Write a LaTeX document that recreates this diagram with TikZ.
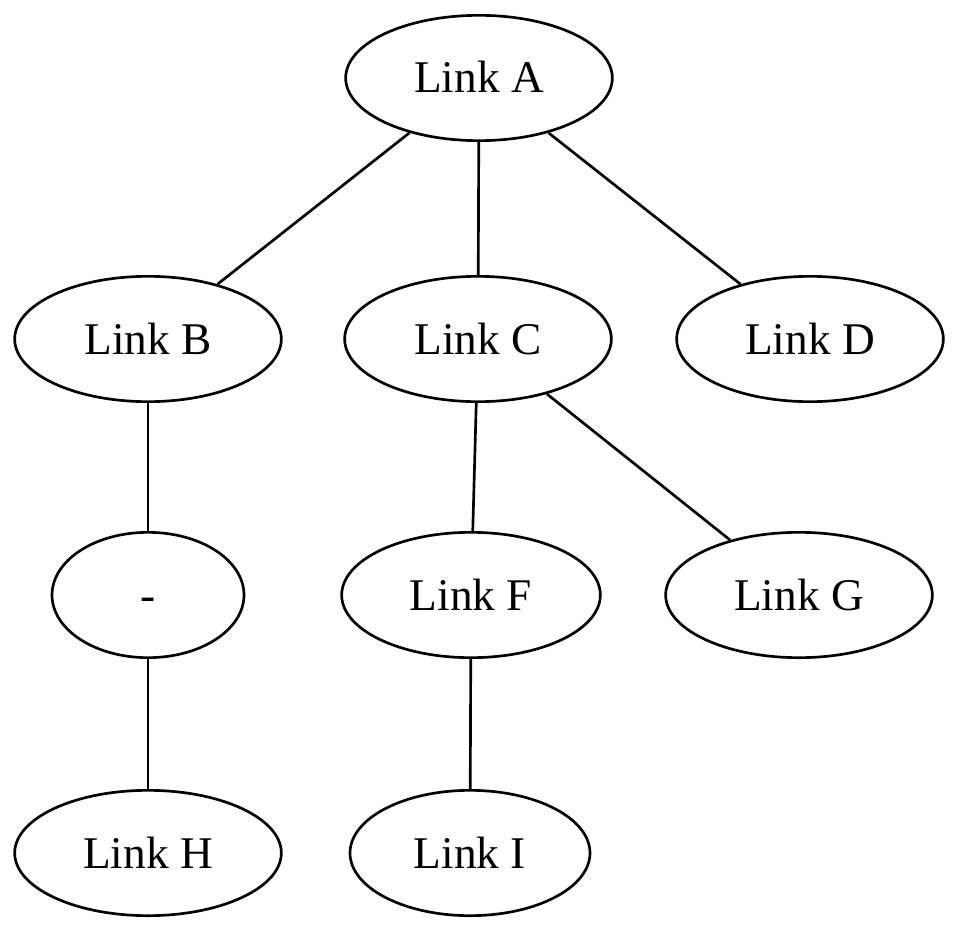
\documentclass[tikz,border=0pt]{standalone}
\usepackage{fontspec}
\setmainfont{Liberation Serif}
\usetikzlibrary{shapes.geometric}

\begin{document}
\begin{tikzpicture}[x=0.75pt, y=-0.75pt, line width=2pt,
    link/.style={ellipse, draw, inner sep=0pt, minimum width=200pt, minimum height=94pt,
                 text height=22.5pt, text depth=0pt,
                 font=\fontsize{34}{40}\selectfont}]
    \useasboundingbox (0,0) rectangle (960,931);
    % Nodes
    \node [link]                      (a) at (479,78)  {Link A};
    \node [link]                      (b) at (148,339) {Link B};
    \node [link]                      (c) at (478,339) {Link C};
    \node [link]                      (d) at (810,339) {Link D};
    \node [link, minimum width=144pt] (e) at (148,595) {-};
    \node [link, minimum width=194pt] (f) at (471,595) {Link F};
    \node [link]                      (g) at (799,595) {Link G};
    \node [link]                      (h) at (148,853) {Link H};
    \node [link, minimum width=180pt] (i) at (470,853) {Link I};

    % Edges
    \path (a) edge (b);
    \path (a) edge (c);
    \path (a) edge (d);
    \path (b) edge (e);
    \path (c) edge (f);
    \path (c) edge (g);
    \path (e) edge (h);
    \path (f) edge (i);
\end{tikzpicture}
\end{document}
